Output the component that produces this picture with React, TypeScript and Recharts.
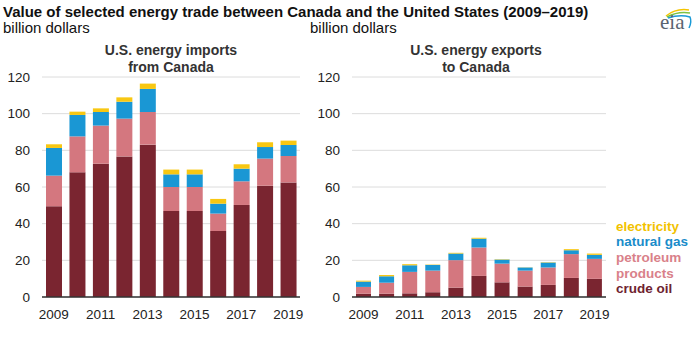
import React from 'react';
import { BarChart, Bar, XAxis, YAxis, CartesianGrid } from 'recharts';

const years = ['2009', '2010', '2011', '2012', '2013', '2014', '2015', '2016', '2017', '2018', '2019'];

const importsCrude = [49.5, 68, 72.7, 76.7, 83.1, 46.9, 46.9, 36, 50.2, 60.7, 62.5];
const importsPetroleum = [16.7, 19.6, 20.8, 20.6, 17.8, 13.1, 13.1, 9.5, 12.9, 14.8, 14.4];
const importsGas = [15.1, 11.7, 7.4, 9.2, 12.6, 6.9, 6.9, 5.4, 6.9, 6.3, 6.0];
const importsElectricity = [2.0, 1.8, 2.0, 2.4, 2.9, 2.6, 2.6, 2.6, 2.4, 2.6, 2.4];

const exportsCrude = [1.8, 1.8, 2.0, 2.6, 5.1, 11.5, 8.0, 5.7, 6.6, 10.4, 9.9];
const exportsPetroleum = [3.7, 6.0, 11.7, 11.8, 15.0, 15.5, 10.2, 8.7, 9.5, 13.0, 10.9];
const exportsGas = [2.9, 3.5, 3.6, 3.1, 3.6, 4.8, 2.2, 1.7, 2.7, 2.1, 2.2];
const exportsElectricity = [0.5, 0.7, 0.6, 0.2, 0.4, 0.5, 0.2, 0.1, 0.2, 0.6, 0.7];

const yTicks = [0, 20, 40, 60, 80, 100, 120];

const legendItems = ['electricity', 'natural gas', 'petroleum', 'products', 'crude oil'];

const C_CRUDE = '#7a2530';
const C_PET = '#d4777f';
const C_GAS = '#1a97d4';
const C_ELEC = '#f8c712';

const FONT = '"Liberation Sans", Arial, Helvetica, sans-serif';

const importsData = years.map((y, i) => ({
  year: y,
  crude: importsCrude[i],
  petroleum: importsPetroleum[i],
  gas: importsGas[i],
  electricity: importsElectricity[i],
}));

const exportsData = years.map((y, i) => ({
  year: y,
  crude: exportsCrude[i],
  petroleum: exportsPetroleum[i],
  gas: exportsGas[i],
  electricity: exportsElectricity[i],
}));

const tickStyle = { fill: '#222', fontSize: 13.5, fontFamily: FONT };

function Panel({ data, width, right, barSize }: { data: any[]; width: number; right: number; barSize: number }) {
  return (
    <BarChart
      width={width}
      height={340}
      data={data}
      margin={{ top: 77, right, bottom: 13, left: 0 }}
    >
      <CartesianGrid vertical={false} stroke="#dcdcdc" strokeWidth={1} />
      <XAxis
        dataKey="year"
        interval={1}
        tickLine={false}
        axisLine={{ stroke: '#333', strokeWidth: 1.5 }}
        tick={tickStyle}
        tickMargin={6}
        height={30}
      />
      <YAxis
        width={42}
        domain={[0, 120]}
        ticks={yTicks}
        tickLine={false}
        axisLine={false}
        tick={tickStyle}
        tickMargin={6}
        interval={0}
      />
      <Bar dataKey="crude" stackId="a" fill={C_CRUDE} barSize={barSize} isAnimationActive={false} />
      <Bar dataKey="petroleum" stackId="a" fill={C_PET} barSize={barSize} isAnimationActive={false} />
      <Bar dataKey="gas" stackId="a" fill={C_GAS} barSize={barSize} isAnimationActive={false} />
      <Bar dataKey="electricity" stackId="a" fill={C_ELEC} barSize={barSize} isAnimationActive={false} />
    </BarChart>
  );
}

const legendColors = ['#f2c200', '#1a8cca', '#d9818a', '#d9818a', '#6e2330'];
const legendY = [230.5, 246.2, 262, 277.7, 293.4];

export default function App() {
  return (
    <div style={{ position: 'absolute', left: 0, top: 0, width: 700, height: 340, background: '#fff', overflow: 'hidden' }}>
      <div style={{ position: 'absolute', left: 0, top: 0 }}>
        <Panel data={importsData} width={320} right={20} barSize={16} />
      </div>
      <div style={{ position: 'absolute', left: 310, top: 0 }}>
        <Panel data={exportsData} width={310} right={14} barSize={15} />
      </div>
      <svg width={700} height={340} style={{ position: 'absolute', left: 0, top: 0, pointerEvents: 'none' }}>
        <text x={3} y={17} fontFamily={FONT} fontWeight="bold" fontSize={15} fill="#111">
          Value of selected energy trade between Canada and the United States (2009–2019)
        </text>
        <text x={3} y={33} fontFamily={FONT} fontSize={15} fill="#111">billion dollars</text>
        <text x={310} y={33} fontFamily={FONT} fontSize={15} fill="#111">billion dollars</text>
        <text x={171} y={55} textAnchor="middle" fontFamily={FONT} fontWeight="bold" fontSize={14} fill="#333">U.S. energy imports</text>
        <text x={171} y={72} textAnchor="middle" fontFamily={FONT} fontWeight="bold" fontSize={14} fill="#333">from Canada</text>
        <text x={476} y={55} textAnchor="middle" fontFamily={FONT} fontWeight="bold" fontSize={14} fill="#333">U.S. energy exports</text>
        <text x={476} y={72} textAnchor="middle" fontFamily={FONT} fontWeight="bold" fontSize={14} fill="#333">to Canada</text>
        {legendItems.map((t, i) => (
          <text key={t} x={616} y={legendY[i]} fontFamily={FONT} fontWeight="bold" fontSize={13.5} fill={legendColors[i]}>
            {t}
          </text>
        ))}
        <g>
          <path d="M666 16 Q676 8 689 10" stroke="#f5c400" strokeWidth={1.5} fill="none" />
          <path d="M667 17 Q678 11 690 13" stroke="#7cc242" strokeWidth={1.5} fill="none" />
          <path d="M668 18 Q680 14 690 17 Q692 22 689 28" stroke="#1a9ad6" strokeWidth={1.5} fill="none" />
          <text x={660} y={29} fontFamily='"Liberation Serif", serif' fontSize={21} fill="#5a6470">eia</text>
        </g>
      </svg>
    </div>
  );
}
